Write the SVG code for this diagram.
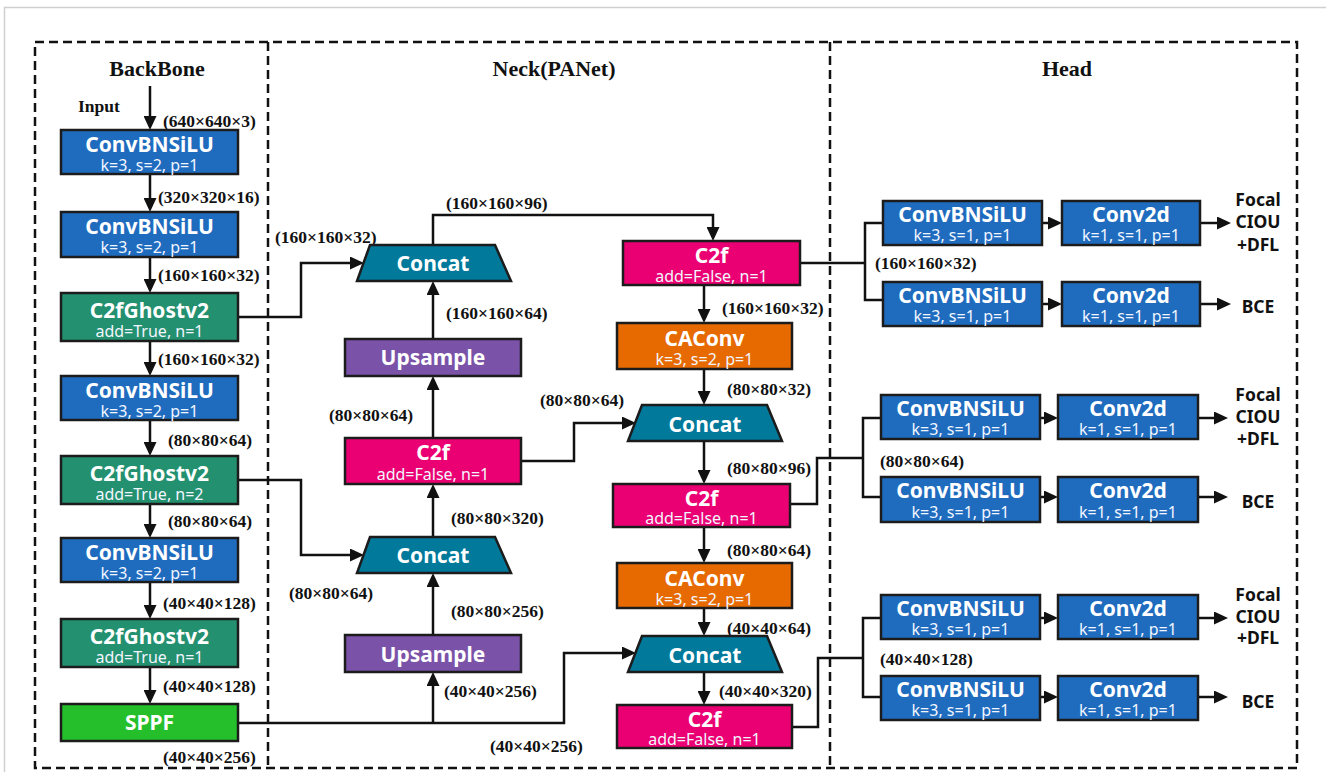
<svg xmlns="http://www.w3.org/2000/svg" width="1326" height="772" viewBox="0 0 1326 772">
  <style>
    .box { stroke: #1c1c1c; stroke-width: 2.5; }
    .blue { fill: #1f6cbf; }
    .ghost { fill: #23906f; }
    .sppf { fill: #26bf2c; }
    .c2f { fill: #eb0073; }
    .caconv { fill: #e66a00; }
    .concat { fill: #00799b; }
    .up { fill: #7a52a8; }
    .t { font-family: "Noto Sans", "Liberation Sans", sans-serif; font-weight: bold; font-size: 21px; fill: #ffffff; text-anchor: middle; }
    .s { font-family: "Noto Sans", "Liberation Sans", sans-serif; font-size: 16px; fill: #f2f6ff; text-anchor: middle; }
    .dim { font-family: "Liberation Serif", "Times New Roman", serif; font-weight: bold; font-size: 17.5px; fill: #111111; }
    .title { font-family: "Liberation Serif", "Times New Roman", serif; font-weight: bold; font-size: 22px; fill: #111111; text-anchor: middle; }
    .out { font-family: "Noto Sans", "Liberation Sans", sans-serif; font-weight: bold; font-size: 17.5px; fill: #111111; text-anchor: middle; }
    .frame { fill: none; stroke: #111111; stroke-width: 2.5; stroke-dasharray: 9 5; }
    .wire { fill: none; stroke: #111111; stroke-width: 2.5; }
    .arrow { marker-end: url(#head); }
  </style>
  <defs>
    <marker id="head" viewBox="0 0 14 13" refX="4" refY="6.5" markerWidth="14" markerHeight="13" markerUnits="userSpaceOnUse" orient="auto">
      <path d="M0,0 L14,6.5 L0,13 Z" fill="#111111"/>
    </marker>
  </defs>

  <rect width="1326" height="772" fill="#ffffff"/>
  <!-- page edge -->
  <path d="M4.5,772 V7.5 H1326" fill="none" stroke="#d0d0d0" stroke-width="1.5"/>

  <!-- section frames -->
  <g id="sections">
    <rect class="frame" x="35" y="42" width="1262" height="726"/>
    <line class="frame" x1="268" y1="42" x2="268" y2="768"/>
    <line class="frame" x1="830" y1="42" x2="830" y2="768"/>
    <text class="title" x="157" y="76">BackBone</text>
    <text class="title" x="554" y="76">Neck(PANet)</text>
    <text class="title" x="1067" y="76">Head</text>
  </g>

  <!-- connectors -->
  <g id="connectors">
    <path class="wire arrow" d="M150,86 V120"/>
    <path class="wire arrow" d="M150,174 V202"/>
    <path class="wire arrow" d="M150,257 V283"/>
    <path class="wire arrow" d="M150,341 V366"/>
    <path class="wire arrow" d="M150,420 V446"/>
    <path class="wire arrow" d="M150,504 V528"/>
    <path class="wire arrow" d="M150,582 V609"/>
    <path class="wire arrow" d="M150,667 V694"/>

    <path class="wire arrow" d="M238,317 H301 V263 H354"/>
    <path class="wire arrow" d="M238,480 H301 V555 H354"/>
    <path class="wire arrow" d="M238,723 H564 V653 H626"/>
    <path class="wire arrow" d="M433,723 V682"/>
    <path class="wire arrow" d="M433,635 V583"/>
    <path class="wire arrow" d="M433,537 V494"/>
    <path class="wire arrow" d="M433,438 V386"/>
    <path class="wire arrow" d="M433,339 V291"/>
    <path class="wire arrow" d="M433,245 V215 H713 V231"/>
    <path class="wire arrow" d="M521,461 H574 V423 H626"/>

    <path class="wire arrow" d="M704,285 V313"/>
    <path class="wire arrow" d="M704,369 V395"/>
    <path class="wire arrow" d="M704,441 V474"/>
    <path class="wire arrow" d="M704,527 V553"/>
    <path class="wire arrow" d="M704,608 V626"/>
    <path class="wire arrow" d="M704,672 V695"/>

    <path class="wire" d="M800,263 H865"/>
    <path class="wire" d="M883,223 H865 V300 H883"/>
    <path class="wire" d="M790,504 H817 V458 H863"/>
    <path class="wire" d="M881,418 H863 V497 H881"/>
    <path class="wire" d="M792,727 H818 V658 H863"/>
    <path class="wire" d="M881,618 H863 V697 H881"/>

    <path class="wire arrow" d="M1042,223 H1052"/>
    <path class="wire arrow" d="M1200,223 H1221"/>
    <path class="wire arrow" d="M1042,304 H1052"/>
    <path class="wire arrow" d="M1200,304 H1221"/>
    <path class="wire arrow" d="M1040,418 H1048"/>
    <path class="wire arrow" d="M1198,418 H1218"/>
    <path class="wire arrow" d="M1040,497 H1048"/>
    <path class="wire arrow" d="M1198,497 H1218"/>
    <path class="wire arrow" d="M1040,618 H1048"/>
    <path class="wire arrow" d="M1198,618 H1218"/>
    <path class="wire arrow" d="M1040,697 H1048"/>
    <path class="wire arrow" d="M1198,697 H1218"/>
  </g>

  <!-- tensor shapes -->
  <g id="shapes">
    <text class="dim" x="78" y="112" font-size="17">Input</text>
    <text class="dim" x="163" y="127">(640×640×3)</text>
    <text class="dim" x="158" y="203">(320×320×16)</text>
    <text class="dim" x="158" y="281">(160×160×32)</text>
    <text class="dim" x="158" y="365">(160×160×32)</text>
    <text class="dim" x="168" y="446">(80×80×64)</text>
    <text class="dim" x="168" y="527">(80×80×64)</text>
    <text class="dim" x="163" y="609">(40×40×128)</text>
    <text class="dim" x="163" y="692">(40×40×128)</text>
    <text class="dim" x="163" y="763">(40×40×256)</text>

    <text class="dim" x="275" y="243">(160×160×32)</text>
    <text class="dim" x="446" y="209">(160×160×96)</text>
    <text class="dim" x="446" y="319">(160×160×64)</text>
    <text class="dim" x="329" y="421">(80×80×64)</text>
    <text class="dim" x="451" y="524">(80×80×320)</text>
    <text class="dim" x="289" y="599">(80×80×64)</text>
    <text class="dim" x="451" y="617">(80×80×256)</text>
    <text class="dim" x="444" y="697">(40×40×256)</text>
    <text class="dim" x="490" y="752">(40×40×256)</text>
    <text class="dim" x="540" y="406">(80×80×64)</text>

    <text class="dim" x="722" y="314">(160×160×32)</text>
    <text class="dim" x="727" y="395">(80×80×32)</text>
    <text class="dim" x="727" y="474">(80×80×96)</text>
    <text class="dim" x="727" y="556">(80×80×64)</text>
    <text class="dim" x="727" y="634">(40×40×64)</text>
    <text class="dim" x="719" y="697">(40×40×320)</text>

    <text class="dim" x="875" y="269">(160×160×32)</text>
    <text class="dim" x="880" y="467">(80×80×64)</text>
    <text class="dim" x="880" y="665">(40×40×128)</text>
  </g>

  <!-- backbone -->
  <g id="bb-conv1">
    <rect class="box blue" x="61" y="130" width="177" height="44"/>
    <text class="t" x="149.5" y="152">ConvBNSiLU</text>
    <text class="s" x="149.5" y="171">k=3, s=2, p=1</text>
  </g>
  <g id="bb-conv2">
    <rect class="box blue" x="61" y="212" width="177" height="45"/>
    <text class="t" x="149.5" y="234">ConvBNSiLU</text>
    <text class="s" x="149.5" y="253">k=3, s=2, p=1</text>
  </g>
  <g id="bb-ghost1">
    <rect class="box ghost" x="61" y="293" width="177" height="48"/>
    <text class="t" x="149.5" y="318">C2fGhostv2</text>
    <text class="s" x="149.5" y="337">add=True, n=1</text>
  </g>
  <g id="bb-conv3">
    <rect class="box blue" x="61" y="376" width="177" height="44"/>
    <text class="t" x="149.5" y="398">ConvBNSiLU</text>
    <text class="s" x="149.5" y="417">k=3, s=2, p=1</text>
  </g>
  <g id="bb-ghost2">
    <rect class="box ghost" x="61" y="456" width="177" height="48"/>
    <text class="t" x="149.5" y="481">C2fGhostv2</text>
    <text class="s" x="149.5" y="500">add=True, n=2</text>
  </g>
  <g id="bb-conv4">
    <rect class="box blue" x="61" y="538" width="177" height="44"/>
    <text class="t" x="149.5" y="560">ConvBNSiLU</text>
    <text class="s" x="149.5" y="579">k=3, s=2, p=1</text>
  </g>
  <g id="bb-ghost3">
    <rect class="box ghost" x="61" y="619" width="177" height="48"/>
    <text class="t" x="149.5" y="644">C2fGhostv2</text>
    <text class="s" x="149.5" y="663">add=True, n=1</text>
  </g>
  <g id="bb-sppf">
    <rect class="box sppf" x="61" y="704" width="177" height="37"/>
    <text class="t" x="149.5" y="730">SPPF</text>
  </g>

  <!-- neck, top-down path -->
  <g id="neck-concat1">
    <polygon class="box concat" points="370,245 495,245 511,281 357,281"/>
    <text class="t" x="433" y="271">Concat</text>
  </g>
  <g id="neck-up1">
    <rect class="box up" x="345" y="339" width="176" height="37"/>
    <text class="t" x="433" y="365">Upsample</text>
  </g>
  <g id="neck-c2f1">
    <rect class="box c2f" x="345" y="438" width="176" height="46"/>
    <text class="t" x="433" y="460">C2f</text>
    <text class="s" x="433" y="480">add=False, n=1</text>
  </g>
  <g id="neck-concat2">
    <polygon class="box concat" points="370,537 495,537 511,573 357,573"/>
    <text class="t" x="433" y="563">Concat</text>
  </g>
  <g id="neck-up2">
    <rect class="box up" x="345" y="635" width="176" height="37"/>
    <text class="t" x="433" y="662">Upsample</text>
  </g>

  <!-- neck, bottom-up path -->
  <g id="neck-c2f2">
    <rect class="box c2f" x="623" y="241" width="177" height="44"/>
    <text class="t" x="711.5" y="263">C2f</text>
    <text class="s" x="711.5" y="282">add=False, n=1</text>
  </g>
  <g id="neck-caconv1">
    <rect class="box caconv" x="617" y="323" width="175" height="46"/>
    <text class="t" x="704.5" y="346">CAConv</text>
    <text class="s" x="704.5" y="365">k=3, s=2, p=1</text>
  </g>
  <g id="neck-concat3">
    <polygon class="box concat" points="642,405 767,405 782,441 628,441"/>
    <text class="t" x="705" y="432">Concat</text>
  </g>
  <g id="neck-c2f3">
    <rect class="box c2f" x="613" y="484" width="177" height="43"/>
    <text class="t" x="701.5" y="506">C2f</text>
    <text class="s" x="701.5" y="524">add=False, n=1</text>
  </g>
  <g id="neck-caconv2">
    <rect class="box caconv" x="617" y="563" width="175" height="45"/>
    <text class="t" x="704.5" y="586">CAConv</text>
    <text class="s" x="704.5" y="605">k=3, s=2, p=1</text>
  </g>
  <g id="neck-concat4">
    <polygon class="box concat" points="642,636 767,636 782,672 628,672"/>
    <text class="t" x="705" y="663">Concat</text>
  </g>
  <g id="neck-c2f4">
    <rect class="box c2f" x="617" y="705" width="175" height="43"/>
    <text class="t" x="704.5" y="727">C2f</text>
    <text class="s" x="704.5" y="745">add=False, n=1</text>
  </g>

  <!-- detection heads -->
  <g id="head1-box-conv">
    <rect class="box blue" x="883" y="201" width="159" height="44"/>
    <text class="t" x="962.5" y="222">ConvBNSiLU</text>
    <text class="s" x="962.5" y="241">k=3, s=1, p=1</text>
  </g>
  <g id="head1-box-out">
    <rect class="box blue" x="1062" y="201" width="138" height="44"/>
    <text class="t" x="1131" y="222">Conv2d</text>
    <text class="s" x="1131" y="241">k=1, s=1, p=1</text>
  </g>
  <g id="head1-cls-conv">
    <rect class="box blue" x="883" y="282" width="159" height="44"/>
    <text class="t" x="962.5" y="303">ConvBNSiLU</text>
    <text class="s" x="962.5" y="322">k=3, s=1, p=1</text>
  </g>
  <g id="head1-cls-out">
    <rect class="box blue" x="1062" y="282" width="138" height="44"/>
    <text class="t" x="1131" y="303">Conv2d</text>
    <text class="s" x="1131" y="322">k=1, s=1, p=1</text>
  </g>
  <g id="head1-loss">
    <text class="out" x="1258" y="206">Focal</text>
    <text class="out" x="1258" y="228">CIOU</text>
    <text class="out" x="1258" y="251">+DFL</text>
    <text class="out" x="1258" y="313">BCE</text>
  </g>

  <g id="head2-box-conv">
    <rect class="box blue" x="881" y="395" width="159" height="44"/>
    <text class="t" x="960.5" y="416">ConvBNSiLU</text>
    <text class="s" x="960.5" y="435">k=3, s=1, p=1</text>
  </g>
  <g id="head2-box-out">
    <rect class="box blue" x="1058" y="395" width="140" height="44"/>
    <text class="t" x="1128" y="416">Conv2d</text>
    <text class="s" x="1128" y="435">k=1, s=1, p=1</text>
  </g>
  <g id="head2-cls-conv">
    <rect class="box blue" x="881" y="477" width="159" height="45"/>
    <text class="t" x="960.5" y="498">ConvBNSiLU</text>
    <text class="s" x="960.5" y="518">k=3, s=1, p=1</text>
  </g>
  <g id="head2-cls-out">
    <rect class="box blue" x="1058" y="477" width="140" height="45"/>
    <text class="t" x="1128" y="498">Conv2d</text>
    <text class="s" x="1128" y="518">k=1, s=1, p=1</text>
  </g>
  <g id="head2-loss">
    <text class="out" x="1258" y="401">Focal</text>
    <text class="out" x="1258" y="423">CIOU</text>
    <text class="out" x="1258" y="445">+DFL</text>
    <text class="out" x="1258" y="508">BCE</text>
  </g>

  <g id="head3-box-conv">
    <rect class="box blue" x="881" y="595" width="159" height="44"/>
    <text class="t" x="960.5" y="616">ConvBNSiLU</text>
    <text class="s" x="960.5" y="635">k=3, s=1, p=1</text>
  </g>
  <g id="head3-box-out">
    <rect class="box blue" x="1058" y="595" width="140" height="44"/>
    <text class="t" x="1128" y="616">Conv2d</text>
    <text class="s" x="1128" y="635">k=1, s=1, p=1</text>
  </g>
  <g id="head3-cls-conv">
    <rect class="box blue" x="881" y="676" width="159" height="44"/>
    <text class="t" x="960.5" y="697">ConvBNSiLU</text>
    <text class="s" x="960.5" y="716">k=3, s=1, p=1</text>
  </g>
  <g id="head3-cls-out">
    <rect class="box blue" x="1058" y="676" width="140" height="44"/>
    <text class="t" x="1128" y="697">Conv2d</text>
    <text class="s" x="1128" y="716">k=1, s=1, p=1</text>
  </g>
  <g id="head3-loss">
    <text class="out" x="1258" y="601">Focal</text>
    <text class="out" x="1258" y="623">CIOU</text>
    <text class="out" x="1258" y="644">+DFL</text>
    <text class="out" x="1258" y="708">BCE</text>
  </g>
</svg>
